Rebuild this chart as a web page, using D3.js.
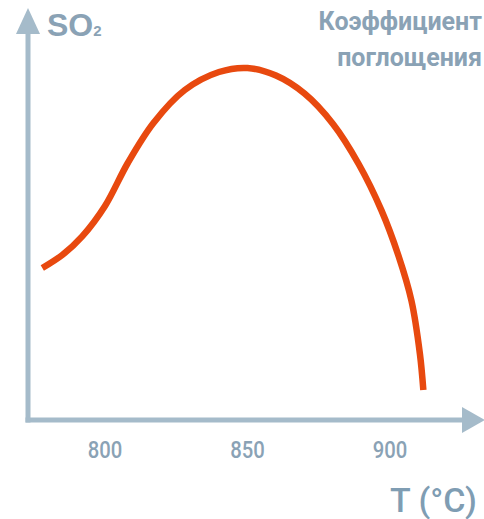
<!DOCTYPE html>
<html><head><meta charset="utf-8">
<script src="https://cdn.jsdelivr.net/npm/d3@7"></script>
<style>html,body{margin:0;padding:0;background:#fff;}svg{display:block;}</style>
</head><body>
<script>
// Data
const temps  = [778, 785, 792, 800, 808, 817, 828, 840, 850, 860, 870, 880, 889, 897, 903, 907.5, 910.5, 911.7];
const values = [38, 41.25, 45.9, 53.5, 64.25, 74.25, 82.5, 87, 88, 86.1, 81.6, 74, 64, 52.4, 41, 29.9, 16.5, 7.5];
const tickValues = [800, 850, 900];
const yLabel = ["SO", "2"];
const rightLabel = ["Коэффициент", "поглощения"];
const xLabel = "T (°C)";

const W = 484, H = 519;
const axisCol = "#a5bbca", textCol = "#8aa2b5", curveCol = "#e8490f";

const svg = d3.select("body").append("svg").attr("width", W).attr("height", H);
const x = d3.scaleLinear().domain([800, 900]).range([105, 390]);
const y = d3.scaleLinear().domain([0, 100]).range([420, 20]);

const ax0 = 28, ay0 = y(0);

// axes
svg.append("line").attr("x1", ax0).attr("x2", ax0).attr("y1", ay0 + 2.5).attr("y2", 30)
  .attr("stroke", axisCol).attr("stroke-width", 5);
svg.append("path").attr("d", `M${ax0-12},${34} L${ax0},${8} L${ax0+12},${34} Z`).attr("fill", axisCol);
svg.append("line").attr("x1", ax0 - 2.5).attr("x2", 466).attr("y1", ay0).attr("y2", ay0)
  .attr("stroke", axisCol).attr("stroke-width", 5);
svg.append("path").attr("d", `M${462},${ay0-13} L${485},${ay0} L${462},${ay0+13} Z`).attr("fill", axisCol);

// tick labels
svg.append("g").selectAll("text").data(tickValues).join("text")
  .attr("x", d => x(d)).attr("y", 458)
  .attr("text-anchor", "middle")
  .attr("font-family", "Roboto, 'Liberation Sans', sans-serif")
  .attr("font-weight", 500).attr("font-size", 23)
  .attr("fill", textCol)
  .attr("transform", d => `translate(${x(d)},0) scale(0.88,1) translate(${-x(d)},0)`)
  .text(d => d);

// curve
const pts = temps.map((t, i) => [t, values[i]]);
svg.append("path").datum(pts)
  .attr("d", d3.line().x(d => x(d[0])).y(d => y(d[1])).curve(d3.curveCatmullRom.alpha(0.5)))
  .attr("fill", "none").attr("stroke", curveCol).attr("stroke-width", 6.5);

// y label
const so = svg.append("text").attr("x", 47).attr("y", 36)
  .attr("font-family", "'Liberation Sans', Arial, sans-serif").attr("font-weight", 700)
  .attr("font-size", 32).attr("fill", textCol);
so.append("tspan").text(yLabel[0]);
so.append("tspan").attr("font-size", 15).text(yLabel[1]);

// right label
svg.append("g").selectAll("text").data(rightLabel).join("text")
  .attr("x", 482).attr("y", (d, i) => i === 0 ? 30 : 66)
  .attr("text-anchor", "end")
  .attr("font-family", "Roboto, 'Liberation Sans', sans-serif").attr("font-weight", 700)
  .attr("font-size", 25).attr("fill", textCol)
  .text(d => d);

// x label
svg.append("text").attr("x", 390).attr("y", 512)
  .attr("font-family", "Roboto, 'Liberation Sans', sans-serif").attr("font-weight", 500)
  .attr("font-size", 34).attr("fill", "#7f9db3")
  .text(xLabel);
</script>
</body></html>
